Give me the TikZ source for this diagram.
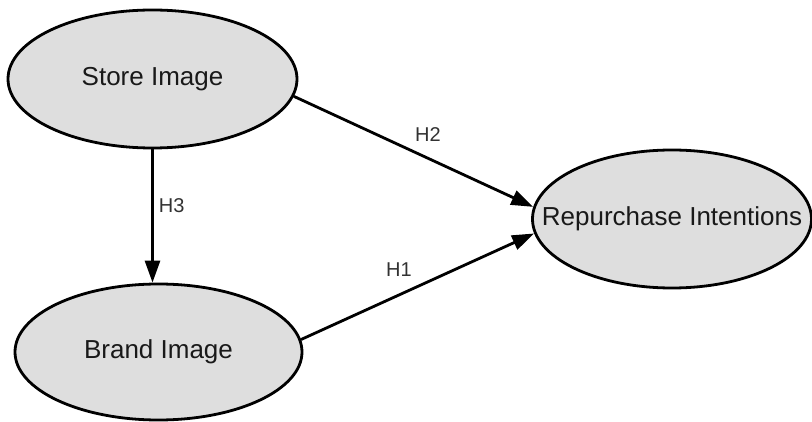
\documentclass[tikz,border=0pt]{standalone}
\usepackage{fontspec}
\setmainfont{Liberation Sans}
\usepackage{tikz}
\usetikzlibrary{arrows.meta,shapes.geometric}
\definecolor{constructfill}{RGB}{222,222,222}
\definecolor{labelgray}{RGB}{50,50,50}
\tikzset{
  construct/.style={ellipse, draw=black, line width=2.8pt, fill=constructfill,
    inner sep=0pt, text=black!90, font=\fontsize{26}{30}\selectfont},
  path/.style={line width=2.8pt, -{Triangle[length=22pt,width=15pt]}},
  hyp/.style={text=labelgray, inner sep=2pt, font=\fontsize{20}{24}\selectfont}
}

\begin{document}
\begin{tikzpicture}[x=1pt,y=-1pt]
                \useasboundingbox (0,0) rectangle (812,422);

                % constructs
                \node[construct, minimum width=289pt, minimum height=138pt] (si) at (152.5,79) {Store Image};
                \node[construct, minimum width=287pt, minimum height=136pt] (bi) at (158.5,352) {Brand Image};
                \node[construct, inner xsep=-45pt, minimum width=279pt, minimum height=138pt] (ri) at (672,219) {Repurchase Intentions};

                % hypothesised paths
                \draw[path] (si.south) -- (si.south |- bi.north) node[hyp, pos=0.42, right=3pt] {H3};
                \draw[path] (si.-7) -- (ri.175) node[hyp, pos=0.56, above=13pt] {H2};
                \draw[path] (bi.5) -- (ri.186) node[hyp, pos=0.42, above=15pt] {H1};
            \end{tikzpicture}
\end{document}
